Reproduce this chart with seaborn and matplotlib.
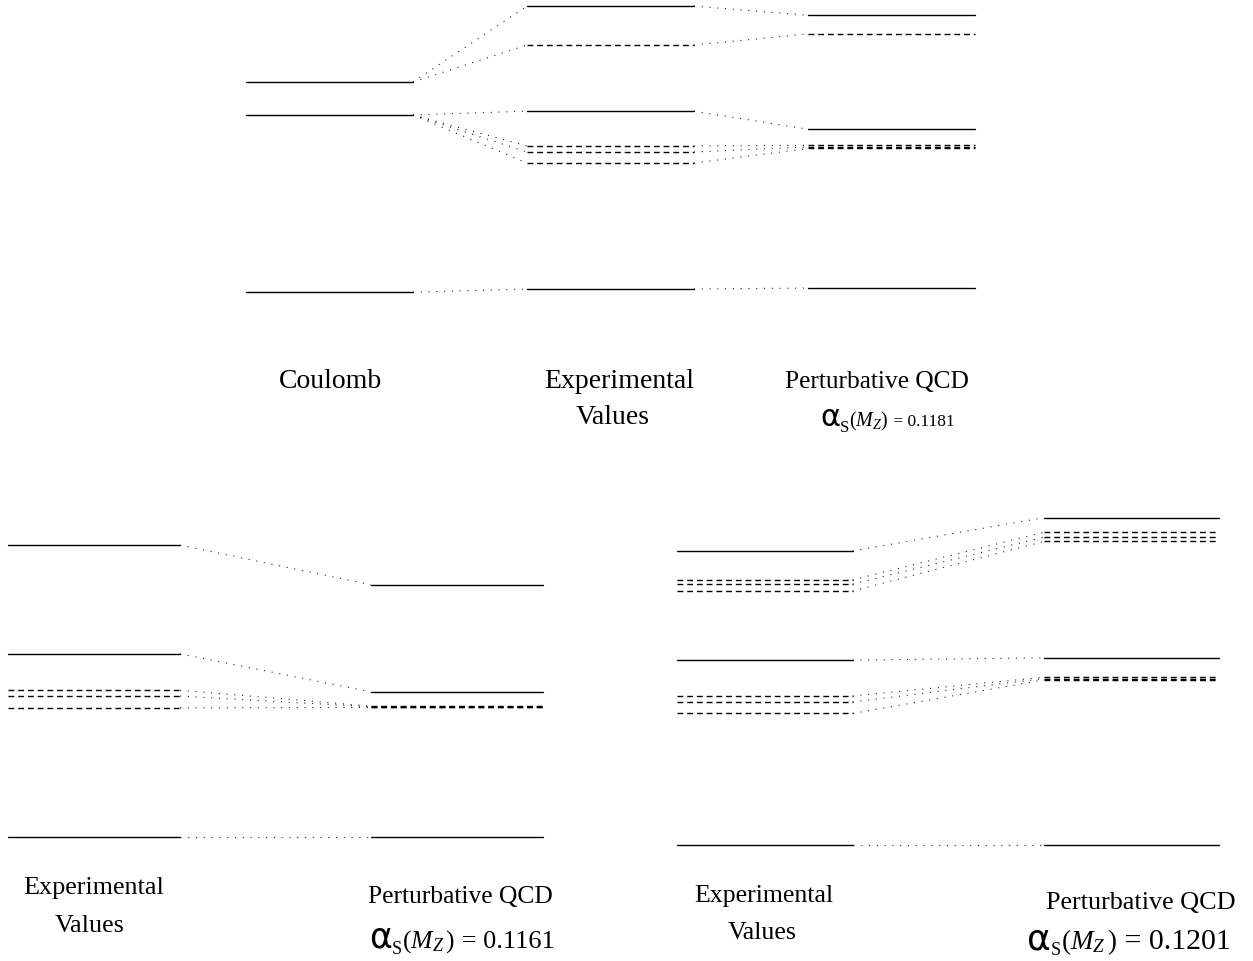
import matplotlib
matplotlib.use("Agg")
import matplotlib.pyplot as plt
import numpy as np
import pandas as pd
import seaborn as sns

# ---------------------------------------------------------------
# Bottomonium spectrum (MeV): S-wave levels drawn solid,
# P-wave (chi_b) levels drawn dashed.
# ---------------------------------------------------------------

# Top panel: Coulomb / Experimental / Perturbative QCD, alpha_s(M_Z)=0.1181
top_coulomb = [9450, 10010, 10114]
top_exp_s = [9460, 10022, 10354]
top_exp_p = [9912, 9893, 9858, 10231]
top_qcd_s = [9463, 9965, 10325]
top_qcd_p = [9914, 9909, 9904, 10266]
# Coulomb shell (index into top_coulomb) each level descends from
top_exp_s_shell = [0, 1, 2]
top_exp_p_shell = [1, 1, 1, 2]

# Bottom-left panel: alpha_s(M_Z)=0.1161
bl_exp_s = [9460, 10024, 10359]
bl_exp_p = [9912, 9894, 9858]
bl_qcd_s = [9460, 9907, 10237]
bl_qcd_p = [9863, 9861, 9859]

# Bottom-right panel: alpha_s(M_Z)=0.1201
br_exp_s = [9460, 10022, 10354]
br_exp_p = [9913, 9895, 9860, 10266, 10253, 10232]
br_qcd_s = [9460, 10029, 10455]
br_qcd_p = [9970, 9966, 9962, 10411, 10396, 10383]

top_columns = ["Coulomb", "Experimental\nValues", "Perturbative QCD"]
bottom_columns = ["Experimental\nValues", "Perturbative QCD"]
alpha_values = ["0.1181", "0.1161", "0.1201"]

W, H = 1253, 961
sns.set_theme(style="white")
plt.rcParams["font.family"] = ["Liberation Serif", "DejaVu Serif"]
plt.rcParams["mathtext.fontset"] = "custom"
plt.rcParams["mathtext.rm"] = "Liberation Serif"
plt.rcParams["mathtext.it"] = "Liberation Serif:italic"
plt.rcParams["mathtext.bf"] = "Liberation Serif:bold"

fig = plt.figure(figsize=(W / 100, H / 100), dpi=100)
fig.patch.set_facecolor("white")
renderer = fig.canvas.get_renderer()


def make_axes(centers, ytop, ybot, yref, mev_per_px):
    """Axes whose column spacing and energy scale follow the panel geometry."""
    pitch = centers[1] - centers[0]
    a = 0.5
    left = centers[0] - a * pitch
    right = centers[-1] + a * pitch
    ax = fig.add_axes([left / W, 1 - ybot / H, (right - left) / W, (ybot - ytop) / H])
    ax.set_xlim(-a, len(centers) - 1 + a)
    e = lambda y: 9460 + (yref - y) * mev_per_px
    ax.set_ylim(e(ybot), e(ytop))
    ax.axis("off")
    ax.patch.set_alpha(0)
    return ax


def level_rows(col, energies, kind, half, tag):
    rows = []
    for i, en in enumerate(energies):
        uid = f"{tag}-{col}-{kind}-{i}"
        rows.append((col - half, en, kind, uid))
        rows.append((col + half, en, kind, uid))
    return rows


def link_rows(col, src, dst, half, tag):
    rows = []
    for i, (a, b) in enumerate(zip(src, dst)):
        uid = f"{tag}-link-{col}-{i}"
        rows.append((col + half, a, "link", uid))
        rows.append((col + 1 - half, b, "link", uid))
    return rows


def draw(ax, level_list, links):
    cols = ["x", "E", "kind", "uid"]
    lv = pd.DataFrame(level_list, columns=cols)
    lk = pd.DataFrame(links, columns=cols)
    sns.lineplot(data=lv, x="x", y="E", units="uid", estimator=None, style="kind",
                 dashes={"S": "", "P": (4.2, 2.8)}, color="black", lw=1.0,
                 legend=False, sort=False, ax=ax, clip_on=False)
    sns.lineplot(data=lk, x="x", y="E", units="uid", estimator=None,
                 color="#222222", lw=0.8, dashes=False, legend=False, sort=False,
                 ax=ax, clip_on=False, linestyle=(0, (1.0, 6.0)))
    ax.set_xlabel("")
    ax.set_ylabel("")


def ftext(x, y, s, size, **kw):
    return fig.text(x / W, 1 - y / H, s, ha="center", va="center", fontsize=size,
                    color="black", **kw)


def alpha_label(x_left, y, value, alpha_size, sub_size, body_size, num_size, gap=""):
    """Upright alpha followed by the subscript S, (M_Z) and the value."""
    pieces = [
        ("\u03b1", alpha_size, ["DejaVu Sans"], 0),
        ("S", sub_size, ["Liberation Serif"], 6),
        (r"$(M_Z%s)$" % gap, body_size, None, 0),
        (" = %s" % value, num_size, None, 0),
    ]
    x = x_left
    for s, size, fam, dy in pieces:
        kw = {} if fam is None else {"family": fam}
        t = fig.text(x / W, 1 - (y + dy) / H, s, ha="left", va="baseline",
                     fontsize=size, color="black", **kw)
        bb = t.get_window_extent(renderer)
        x += bb.width


# ---------------- top panel ----------------
half = 0.297
ax_top = make_axes([329.5, 610.5, 891.5], 0, 300, 289, 3.16)
levels = []
levels += level_rows(0, top_coulomb, "S", half, "t")
levels += level_rows(1, top_exp_s, "S", half, "t")
levels += level_rows(1, top_exp_p, "P", half, "t")
levels += level_rows(2, top_qcd_s, "S", half, "t")
levels += level_rows(2, top_qcd_p, "P", half, "t")
links = []
links += link_rows(0, [top_coulomb[k] for k in top_exp_s_shell], top_exp_s, half, "ts")
links += link_rows(0, [top_coulomb[k] for k in top_exp_p_shell], top_exp_p, half, "tp")
links += link_rows(1, top_exp_s, top_qcd_s, half, "ts")
links += link_rows(1, top_exp_p, top_qcd_p, half, "tp")
draw(ax_top, levels, links)

ftext(331, 382, top_columns[0], 20)
ftext(619, 382, top_columns[1].split("\n")[0], 20)
ftext(613, 418, top_columns[1].split("\n")[1], 20)
ftext(877, 382, top_columns[2], 18.3)
alpha_label(820, 426, alpha_values[0], 22, 12, 14.5, 12.5)

# ---------------- bottom-left panel ----------------
half = 0.237
ax_bl = make_axes([94, 457], 500, 860, 837, 3.08)
levels = []
levels += level_rows(0, bl_exp_s, "S", half, "bl")
levels += level_rows(0, bl_exp_p, "P", half, "bl")
levels += level_rows(1, bl_qcd_s, "S", half, "bl")
levels += level_rows(1, bl_qcd_p, "P", half, "bl")
links = link_rows(0, bl_exp_s, bl_qcd_s, half, "bls") + link_rows(0, bl_exp_p, bl_qcd_p, half, "blp")
draw(ax_bl, levels, links)

ftext(94, 888, bottom_columns[0].split("\n")[0], 18.8)
ftext(90, 926, bottom_columns[0].split("\n")[1], 18.8)
ftext(460, 897, bottom_columns[1], 18.4)
alpha_label(369, 948, alpha_values[1], 25, 13, 18.5, 19, gap=r"\,")

# ---------------- bottom-right panel ----------------
half = 0.239
ax_br = make_axes([765, 1131.5], 500, 860, 845, 3.04)
levels = []
levels += level_rows(0, br_exp_s, "S", half, "br")
levels += level_rows(0, br_exp_p, "P", half, "br")
levels += level_rows(1, br_qcd_s, "S", half, "br")
levels += level_rows(1, br_qcd_p, "P", half, "br")
links = link_rows(0, br_exp_s, br_qcd_s, half, "brs") + link_rows(0, br_exp_p, br_qcd_p, half, "brp")
draw(ax_br, levels, links)

ftext(764, 896, bottom_columns[0].split("\n")[0], 18.6)
ftext(762, 933, bottom_columns[0].split("\n")[1], 18.6)
ftext(1141, 903, bottom_columns[1], 18.8)
alpha_label(1027, 949, alpha_values[2], 26, 13, 19.5, 21.5, gap=r"\,")

fig.savefig("out.png", dpi=100, facecolor="white")
